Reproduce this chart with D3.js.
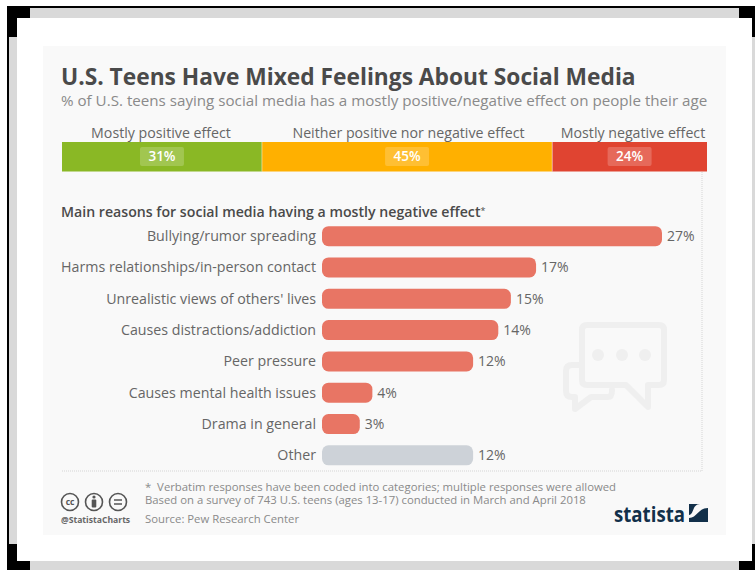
<!DOCTYPE html>
<html><head><meta charset="utf-8">
<script src="https://cdn.jsdelivr.net/npm/d3@7"></script>
<style>
html,body{margin:0;padding:0;background:#fff}
svg{display:block}
text{font-family:"Open Sans",sans-serif;white-space:pre}
</style></head><body>
<svg id="chart" width="755" height="570"></svg>
<script>
// Share of teens by overall view
const effectLabels = ["Mostly positive effect", "Neither positive nor negative effect", "Mostly negative effect"];
const effectValues = [31, 45, 24];
const effectColors = ["#8ab825", "#ffb000", "#e04431"];

// Reasons given for a mostly negative effect
const reasons = ["Bullying/rumor spreading", "Harms relationships/in-person contact", "Unrealistic views of others' lives",
  "Causes distractions/addiction", "Peer pressure", "Causes mental health issues", "Drama in general", "Other"];
const reasonValues = [27, 17, 15, 14, 12, 4, 3, 12];

const svg = d3.select("#chart");

// Outer frame
const frame = svg.append("g");
const rect = (g, x, y, w, h, fill) => g.append("rect").attr("x", x).attr("y", y).attr("width", w).attr("height", h).attr("fill", fill);
rect(frame, 7, 6, 748, 564, "#d9d9d9");
rect(frame, 7, 6, 748, 2, "#000");
rect(frame, 7, 6, 2, 540, "#000");
rect(frame, 17, 18, 735, 543, "#fff");
[[7,6,23,12],[7,6,10,31],[739,6,16,12],[752,6,3,31],[7,544,10,26],[7,561,23,9],[739,561,16,9],[752,544,3,26]]
  .forEach(b => rect(frame, b[0], b[1], b[2], b[3], "#000"));
rect(frame, 43, 46, 683, 489, "#f9f9f9");

// Heading
svg.append("text").attr("x", 61).attr("y", 85).attr("font-size", 22.76).attr("font-weight", 700).attr("fill", "#4a4a4a")
  .text("U.S. Teens Have Mixed Feelings About Social Media");
svg.append("text").attr("x", 61).attr("y", 106).attr("font-size", 15.16).attr("fill", "#8a8a8a")
  .text("% of U.S. teens saying social media has a mostly positive/negative effect on people their age");

// Stacked share bar
const xShare = d3.scaleLinear().domain([0, 100]).range([62, 707]);
const starts = d3.cumsum([0, ...effectValues]);
const segs = svg.append("g").selectAll("g").data(effectValues).join("g");
segs.append("rect")
  .attr("x", (d, i) => xShare(starts[i]))
  .attr("y", 142).attr("height", 29.5)
  .attr("width", (d, i) => xShare(starts[i] + d) - xShare(starts[i]))
  .attr("fill", (d, i) => effectColors[i]);
segs.filter((d, i) => i > 0).append("rect")
  .attr("x", (d, i) => xShare(starts[i + 1]) - 0.5).attr("y", 142).attr("width", 1).attr("height", 29.5)
  .attr("fill", "#fff").attr("opacity", 0.45);
const mids = effectValues.map((d, i) => xShare(starts[i] + d / 2));
segs.append("rect")
  .attr("x", (d, i) => mids[i] - 22).attr("y", 147).attr("width", 44).attr("height", 19).attr("rx", 2)
  .attr("fill", "#fff").attr("opacity", 0.2);
segs.append("text")
  .attr("x", (d, i) => mids[i]).attr("y", 161).attr("text-anchor", "middle")
  .attr("font-size", 13.5).attr("font-weight", 600).attr("fill", "#fff")
  .text(d => d + "%");
const labelX = [161, 408.5, 633];
segs.append("text")
  .attr("x", (d, i) => labelX[i]).attr("y", 138).attr("text-anchor", "middle")
  .attr("font-size", 14.2).attr("fill", "#666")
  .text((d, i) => effectLabels[i]);

// Section heading
const section = svg.append("text").attr("x", 61).attr("y", 217).attr("font-size", 14.15).attr("font-weight", 600).attr("fill", "#4a4a4a");
section.append("tspan").text("Main reasons for social media having a mostly negative effect");
section.append("tspan").attr("font-size", 9).attr("dy", -3).attr("font-weight", 400).text("*");

// Dotted plot border
svg.append("path").attr("d", "M702 172V471H62").attr("fill", "none")
  .attr("stroke", "#d5d5d5").attr("stroke-dasharray", "1 1");

// Chat bubbles watermark
const icon = svg.append("g").attr("fill", "none").attr("stroke", "#efefef").attr("stroke-width", 6).attr("stroke-linejoin", "round").attr("stroke-linecap", "round");
icon.append("path").attr("d", "M587 325H659Q664 325 664 330V380Q664 385 659 385H648V407L626 385H587Q582 385 582 380V330Q582 325 587 325Z");
icon.append("path").attr("d", "M580 365H572Q566 365 566 371V391Q566 397 572 397H575V409L591 397H608Q612 397 612 390");
svg.append("g").selectAll("circle").data([598, 622, 645]).join("circle")
  .attr("cx", d => d).attr("cy", 355).attr("r", 6).attr("fill", "#efefef");

// Horizontal bars
const x = d3.scaleLinear().domain([0, 27]).range([322, 662]);
const y = d3.scaleBand().domain(reasons).range([220.5, 471]).paddingInner(0.36).paddingOuter(0.18);
const rows = svg.append("g").selectAll("g").data(reasons).join("g");
rows.append("rect")
  .attr("x", x(0)).attr("y", d => y(d))
  .attr("width", (d, i) => x(reasonValues[i]) - x(0))
  .attr("height", y.bandwidth()).attr("rx", 6.5)
  .attr("fill", d => d === "Other" ? "#cdd2d8" : "#e87564");
rows.append("text")
  .attr("x", 316).attr("y", d => y(d) + y.bandwidth() / 2 + 5).attr("text-anchor", "end")
  .attr("font-size", 14.22).attr("fill", "#666").text(d => d);
rows.append("text")
  .attr("x", (d, i) => x(reasonValues[i]) + 5).attr("y", d => y(d) + y.bandwidth() / 2 + 5)
  .attr("font-size", 14).attr("fill", "#666").text((d, i) => reasonValues[i] + "%");

// Footnotes
[["*  Verbatim responses have been coded into categories; multiple responses were allowed", 491],
 ["Based on a survey of 743 U.S. teens (ages 13-17) conducted in March and April 2018", 504],
 ["Source: Pew Research Center", 523]].forEach(n =>
  svg.append("text").attr("x", 145).attr("y", n[1]).attr("font-size", 11.33).attr("fill", "#8a8a8a").text(n[0]));

// Licence badges
const badges = svg.append("g").attr("fill", "none").attr("stroke", "#555").attr("stroke-width", 1.6);
[70, 94, 118].forEach(cx => badges.append("circle").attr("cx", cx).attr("cy", 502).attr("r", 8.5));
svg.append("text").attr("x", 70).attr("y", 505).attr("text-anchor", "middle").attr("font-size", 8.5).attr("font-weight", 700).attr("fill", "#555").text("cc");
svg.append("circle").attr("cx", 94).attr("cy", 497).attr("r", 1.6).attr("fill", "#555");
svg.append("rect").attr("x", 91.7).attr("y", 499.5).attr("width", 4.6).attr("height", 8).attr("rx", 1).attr("fill", "#555");
svg.append("path").attr("d", "M114 500H122M114 504H122").attr("stroke", "#555").attr("stroke-width", 1.6);
svg.append("text").attr("x", 61).attr("y", 523).attr("font-size", 8.6).attr("font-weight", 700).attr("fill", "#666").text("@StatistaCharts");

// Brand mark
svg.append("text").attr("x", 614).attr("y", 522).attr("font-size", 21).attr("font-weight", 700).attr("fill", "#12304a")
  .attr("textLength", 71).attr("lengthAdjust", "spacingAndGlyphs").text("statista");
svg.append("rect").attr("x", 689).attr("y", 504).attr("width", 19).attr("height", 18).attr("fill", "#12304a");
svg.append("path").attr("d", "M689 518C697 518 698 508 708 508V504H700C692 504 694 515 689 515Z").attr("fill", "#f9f9f9");
</script>
</body></html>
